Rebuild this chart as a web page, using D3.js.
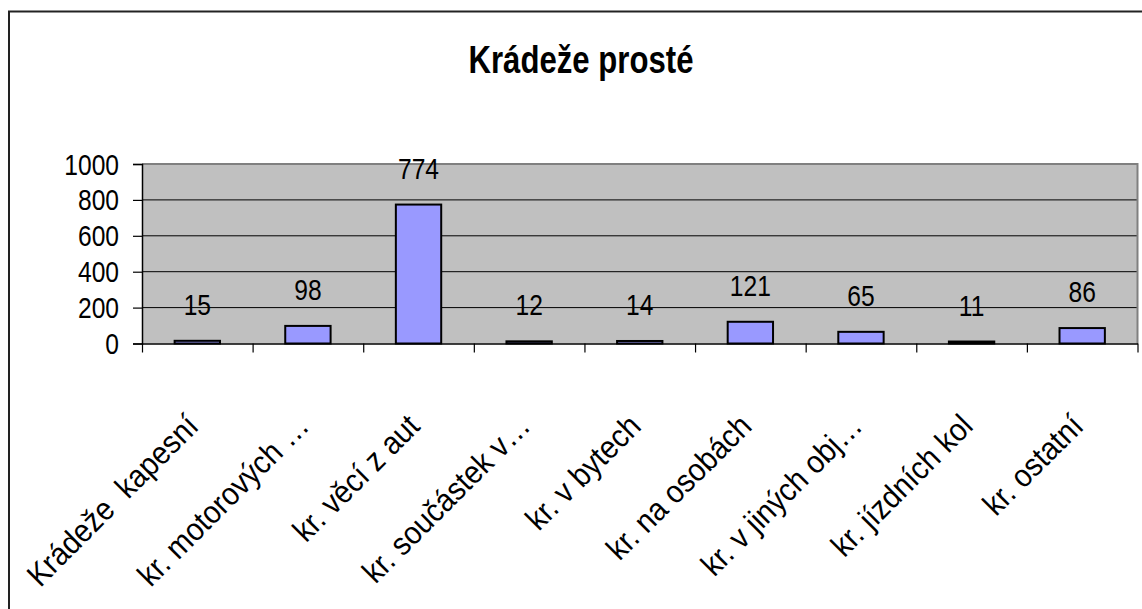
<!DOCTYPE html>
<html>
<head>
<meta charset="utf-8">
<script src="https://cdn.jsdelivr.net/npm/d3@7"></script>
<style>
  html, body { margin: 0; padding: 0; background: #fff; }
  svg { display: block; }
  text { font-family: Arial, "Liberation Sans", sans-serif; fill: #000; white-space: pre; }
</style>
</head>
<body>
<svg id="chart" width="1142" height="609"></svg>
<script>
const title = "Krádeže prosté";
const categories = [
  "Krádeže  kapesní",
  "kr. motorových …",
  "kr. věcí z aut",
  "kr. součástek v…",
  "kr. v bytech",
  "kr. na osobách",
  "kr. v jiných obj…",
  "kr. jízdních kol",
  "kr. ostatní"
];
const values = [15, 98, 774, 12, 14, 121, 65, 11, 86];
const yTicks = [0, 200, 400, 600, 800, 1000];

const svg = d3.select("#chart");
const W = 1142, H = 609;
const plot = { left: 142, right: 1137.5, top: 164, bottom: 343.5 };
const condense = 0.82;

// outer frame (extends past right/bottom edge)
svg.append("rect")
  .attr("x", 9).attr("y", 11.5)
  .attr("width", W + 20).attr("height", H + 20)
  .attr("fill", "#fff").attr("stroke", "#222").attr("stroke-width", 2);

const x = d3.scaleBand().domain(categories).range([plot.left, plot.right]).padding(0);
const xi = d3.scaleLinear().domain([0, categories.length]).range([plot.left, plot.right]);
const y = d3.scaleLinear().domain([0, 1000]).range([plot.bottom, plot.top]);

// plot background
svg.append("rect")
  .attr("x", plot.left).attr("y", plot.top)
  .attr("width", plot.right - plot.left).attr("height", plot.bottom - plot.top)
  .attr("fill", "#C0C0C0");

// gridlines
svg.append("g").selectAll("line")
  .data(yTicks.filter(d => d > 0 && d < 1000))
  .join("line")
  .attr("x1", plot.left).attr("x2", plot.right)
  .attr("y1", d => y(d)).attr("y2", d => y(d))
  .attr("stroke", "#000").attr("stroke-width", 1);

// top & right border
svg.append("path")
  .attr("d", `M${plot.left},${y(1000)}H${plot.right}V${plot.bottom}`)
  .attr("fill", "none").attr("stroke", "#808080").attr("stroke-width", 2);

// bars
const barW = x.bandwidth() * 0.41;
svg.append("g").selectAll("rect")
  .data(values)
  .join("rect")
  .attr("x", (d, i) => x(categories[i]) + (x.bandwidth() - barW) / 2)
  .attr("y", d => y(d))
  .attr("width", barW)
  .attr("height", d => y(0) - y(d))
  .attr("fill", "#9999FF")
  .attr("stroke", "#000").attr("stroke-width", 2);

// data labels
svg.append("g").selectAll("text")
  .data(values)
  .join("text")
  .attr("transform", (d, i) =>
    `translate(${x(categories[i]) + x.bandwidth() / 2},${y(d) - 26}) scale(${condense},1)`)
  .attr("text-anchor", "middle")
  .attr("font-size", 30)
  .text(d => d);

// y axis
const yAxis = svg.append("g")
  .attr("transform", `translate(${plot.left},0)`)
  .call(d3.axisLeft(y).tickValues(yTicks).tickSize(9).tickFormat(""));
yAxis.select(".domain").attr("stroke", "#000").attr("stroke-width", 1.5);
yAxis.selectAll(".tick line").attr("stroke", "#000").attr("stroke-width", 1.2);

svg.append("g").selectAll("text")
  .data(yTicks)
  .join("text")
  .attr("transform", d => `translate(119,${y(d) + 10.5}) scale(${condense},1)`)
  .attr("text-anchor", "end")
  .attr("font-size", 30)
  .text(d => d);

// x axis (ticks at category boundaries)
const xAxis = svg.append("g")
  .attr("transform", `translate(0,${plot.bottom})`)
  .call(d3.axisBottom(xi).tickValues(d3.range(categories.length + 1)).tickSize(9).tickSizeOuter(0).tickFormat(""));
xAxis.select(".domain").attr("stroke", "#000").attr("stroke-width", 1.5);
xAxis.selectAll(".tick line").attr("stroke", "#000").attr("stroke-width", 1.2);

// x labels, rotated
svg.append("g").selectAll("text")
  .data(categories)
  .join("text")
  .attr("transform", d =>
    `translate(${x(d) + x.bandwidth() / 2 + 3},428) rotate(-45) scale(0.91,1)`)
  .attr("text-anchor", "end")
  .attr("font-size", 32)
  .text(d => d);

// title
svg.append("text")
  .attr("transform", `translate(581,73) scale(${condense},1)`)
  .attr("text-anchor", "middle")
  .attr("font-size", 38)
  .attr("font-weight", "bold")
  .text(title);
</script>
</body>
</html>
